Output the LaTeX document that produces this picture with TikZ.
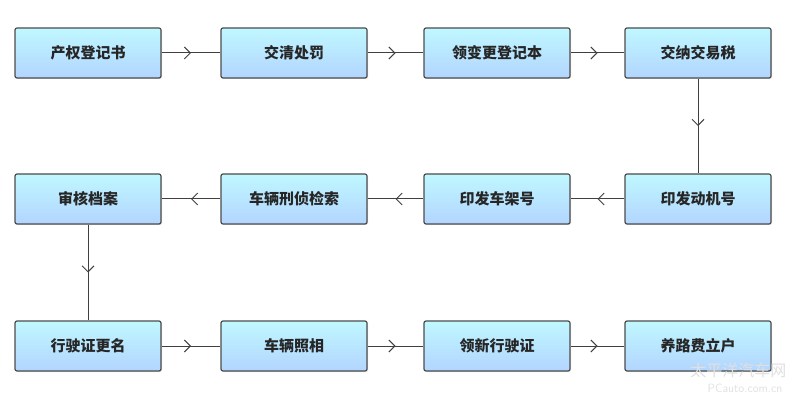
\documentclass[tikz,border=0pt]{standalone}
\usepackage{fontspec}
\newfontfamily\cjk{Noto Sans CJK SC}
\usetikzlibrary{decorations.markings,arrows.meta,shadows}
\begin{document}
\begin{tikzpicture}[x=1pt,y=-1pt,
 box/.style={draw=black!70,line width=1.2pt,rounded corners=2pt,top color=blue!12!cyan!25,bottom color=cyan!45!blue!30,minimum width=146pt,minimum height=50pt,font=\cjk\bfseries\fontsize{15}{15}\selectfont,text=black!85,drop shadow={opacity=0.25,shadow xshift=1pt,shadow yshift=-1pt}},
 conn/.style={draw=black!75,line width=1pt,postaction={decorate},decoration={markings,mark=at position 0.5 with {\arrow{Straight Barb[length=6pt,width=12pt]}}}}]
\useasboundingbox (0,0) rectangle (800,403);
\node[box] (a1) at (88,53) {产权登记书};
\node[box] (a2) at (294,53) {交清处罚};
\node[box] (a3) at (497,53) {领变更登记本};
\node[box] (a4) at (698,53) {交纳交易税};
\node[box] (b1) at (88,199) {审核档案};
\node[box] (b2) at (294,199) {车辆刑侦检索};
\node[box] (b3) at (497,199) {印发车架号};
\node[box] (b4) at (698,199) {印发动机号};
\node[box] (c1) at (88,346) {行驶证更名};
\node[box] (c2) at (294,346) {车辆照相};
\node[box] (c3) at (497,346) {领新行驶证};
\node[box] (c4) at (698,346) {养路费立户};
\draw[conn] (a1) -- (a2); \draw[conn] (a2) -- (a3); \draw[conn] (a3) -- (a4);
\draw[conn] (a4) -- (b4);
\draw[conn] (b4) -- (b3); \draw[conn] (b3) -- (b2); \draw[conn] (b2) -- (b1);
\draw[conn] (b1) -- (c1);
\draw[conn] (c1) -- (c2); \draw[conn] (c2) -- (c3); \draw[conn] (c3) -- (c4);
\node[text=black!12,font=\cjk\fontsize{16}{16}\selectfont,anchor=east] (w1) at (790,370) {太平洋汽车网};
\node[text=black!12,font=\sffamily\fontsize{12}{12}\selectfont,anchor=east] (w2) at (786,388) {PCauto.com.cn};
\end{tikzpicture}
\end{document}
